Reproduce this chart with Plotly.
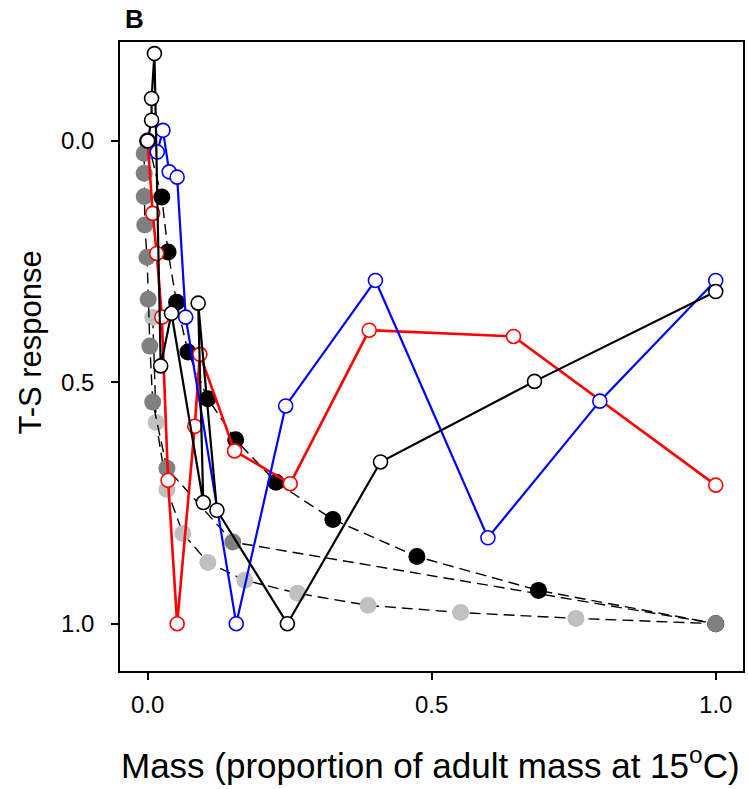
import plotly.graph_objects as go

# ---- data ----
lgray_x = [0.009, 0.015, 0.034, 0.062, 0.106, 0.171, 0.264, 0.388, 0.551, 0.754, 1.0]
lgray_y = [0.365, 0.583, 0.722, 0.813, 0.873, 0.910, 0.937, 0.962, 0.977, 0.989, 1.0]

dgray_x = [-0.006, -0.006, -0.006, -0.005, -0.001, 0.001, 0.004, 0.009, 0.034, 0.150, 1.0]
dgray_y = [0.026, 0.067, 0.115, 0.174, 0.241, 0.328, 0.425, 0.541, 0.678, 0.831, 1.0]

black_x = [0.0, 0.025, 0.036, 0.051, 0.071, 0.106, 0.155, 0.226, 0.326, 0.474, 0.688, 1.0]
black_y = [0.0, 0.116, 0.230, 0.334, 0.437, 0.534, 0.619, 0.707, 0.784, 0.861, 0.931, 1.0]

red_x = [0.0, 0.009, 0.016, 0.025, 0.036, 0.052, 0.083, 0.092, 0.153, 0.251, 0.390, 0.644, 1.0]
red_y = [0.0, 0.150, 0.233, 0.365, 0.703, 1.0, 0.591, 0.442, 0.642, 0.710, 0.392, 0.405, 0.713]

blue_x = [0.0, 0.017, 0.027, 0.038, 0.052, 0.067, 0.156, 0.243, 0.401, 0.599, 0.796, 1.0]
blue_y = [0.0, 0.023, -0.022, 0.064, 0.075, 0.365, 1.0, 0.549, 0.289, 0.822, 0.539, 0.289]

white_x = [0.0, 0.007, 0.007, 0.012, 0.023, 0.042, 0.098, 0.089, 0.122, 0.246, 0.410, 0.681, 1.0]
white_y = [0.0, -0.043, -0.088, -0.181, 0.466, 0.357, 0.749, 0.336, 0.765, 1.0, 0.665, 0.498, 0.312]

x_ticks = [0.0, 0.5, 1.0]
y_ticks = [0.0, 0.5, 1.0]
tick_text = ["0.0", "0.5", "1.0"]

fig = go.Figure()

dash = "11px,6px"
fig.add_trace(go.Scatter(x=lgray_x, y=lgray_y, mode="lines+markers",
                         line=dict(color="black", width=1.4, dash=dash),
                         marker=dict(size=17, color="#c0c0c0", line=dict(width=0))))
fig.add_trace(go.Scatter(x=black_x, y=black_y, mode="lines+markers",
                         line=dict(color="black", width=1.4, dash=dash),
                         marker=dict(size=17, color="black", line=dict(width=0))))
fig.add_trace(go.Scatter(x=dgray_x, y=dgray_y, mode="lines+markers",
                         line=dict(color="black", width=1.4, dash=dash),
                         marker=dict(size=17, color="#808080", line=dict(width=0))))
fig.add_trace(go.Scatter(x=red_x, y=red_y, mode="lines+markers",
                         line=dict(color="#ff0000", width=2.6),
                         marker=dict(size=14, color="white", line=dict(color="#ff0000", width=1.6))))
fig.add_trace(go.Scatter(x=blue_x, y=blue_y, mode="lines+markers",
                         line=dict(color="#0000ff", width=2.2),
                         marker=dict(size=14, color="white", line=dict(color="#0000ff", width=1.6))))
fig.add_trace(go.Scatter(x=white_x, y=white_y, mode="lines+markers",
                         line=dict(color="black", width=2.2),
                         marker=dict(size=14, color="white", line=dict(color="black", width=1.6))))

fig.update_layout(
    width=748, height=789,
    margin=dict(l=120, r=3, t=42, b=118),
    paper_bgcolor="white", plot_bgcolor="white",
    showlegend=False,
    font=dict(family="Liberation Sans, Arial, sans-serif", color="black"),
)
fig.update_xaxes(range=[-0.0486, 1.048], tickvals=x_ticks, ticktext=tick_text,
                 showgrid=False, zeroline=False, showline=True, linecolor="black",
                 linewidth=1.5, mirror=True, ticks="outside", ticklen=7, tickwidth=1.5,
                 tickcolor="black", tickfont=dict(size=24), ticklabelstandoff=4)
fig.update_yaxes(range=[1.098, -0.205], tickvals=y_ticks, ticktext=tick_text,
                 showgrid=False, zeroline=False, showline=True, linecolor="black",
                 linewidth=1.5, mirror=True, ticks="outside", ticklen=7, tickwidth=1.5,
                 tickcolor="black", tickfont=dict(size=24), ticklabelstandoff=12)

fig.add_annotation(text="Mass (proportion of adult mass at 15<sup>o</sup>C)",
                   xref="paper", yref="paper", x=0.499, y=-0.1467,
                   xanchor="center", yanchor="middle", showarrow=False,
                   font=dict(size=35))
fig.add_annotation(text="T-S response", textangle=-90,
                   xref="paper", yref="paper", x=-0.144, y=0.5226,
                   xanchor="center", yanchor="middle", showarrow=False,
                   font=dict(size=31))
fig.add_annotation(text="<b>B</b>", xref="paper", yref="paper", x=0.0043, y=1.036,
                   xanchor="left", yanchor="middle", showarrow=False,
                   font=dict(size=26))

fig.write_html("out.html")
